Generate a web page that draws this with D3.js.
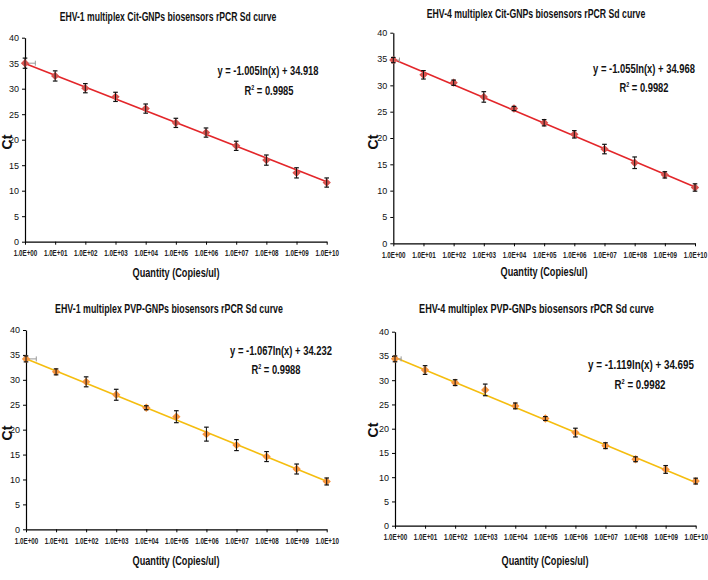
<!DOCTYPE html>
<html><head><meta charset="utf-8">
<script src="https://cdn.jsdelivr.net/npm/d3@7"></script>
<style>body{margin:0;background:#fff}svg{display:block}text{font-family:"Liberation Sans Narrow","Liberation Sans",Arial,sans-serif}</style>
</head><body>
<svg id="c" width="708" height="580"></svg>
<script>
const quantities = [1e0,1e1,1e2,1e3,1e4,1e5,1e6,1e7,1e8,1e9,1e10];
const tickLabels = ["1.0E+00","1.0E+01","1.0E+02","1.0E+03","1.0E+04","1.0E+05","1.0E+06","1.0E+07","1.0E+08","1.0E+09","1.0E+10"];
const yTicks = [0,5,10,15,20,25,30,35,40];

const titles = [
  "EHV-1 multiplex Cit-GNPs biosensors rPCR Sd curve",
  "EHV-4 multiplex Cit-GNPs biosensors rPCR Sd curve",
  "EHV-1 multiplex PVP-GNPs biosensors rPCR Sd curve",
  "EHV-4 multiplex PVP-GNPs biosensors rPCR Sd curve"
];
const ctCit1 = [35.0,32.5,30.1,28.4,26.1,23.3,21.4,18.8,16.0,13.5,11.6];
const errCit1 = [1.0,1.0,0.9,0.9,0.9,0.9,0.9,0.9,1.0,1.0,0.9];
const ctCit4 = [34.8,32.0,30.5,27.8,25.6,22.9,20.7,17.9,15.3,13.0,10.6];
const errCit4 = [0.5,0.8,0.5,1.0,0.4,0.6,0.7,0.9,1.1,0.6,0.7];
const ctPvp1 = [34.2,31.6,29.6,27.0,24.4,22.6,19.1,16.9,14.6,12.1,9.6];
const errPvp1 = [0.6,0.6,1.0,1.1,0.4,1.2,1.4,1.1,1.0,1.0,0.7];
const ctPvp4 = [34.4,32.1,29.5,28.0,24.7,22.1,19.2,16.5,13.7,11.6,9.2];
const errPvp4 = [0.6,0.9,0.6,1.2,0.6,0.4,0.9,0.6,0.5,0.8,0.6];
const xErrFirst = [2.2, 1.6, 2.2, 1.6]; // horizontal error bar end (quantity) at first point
const slopes = [-1.005,-1.055,-1.067,-1.119];
const intercepts = [34.918,34.968,34.232,34.695];
const equations = ["y = -1.005ln(x) + 34.918","y = -1.055ln(x) + 34.968","y = -1.067ln(x) + 34.232","y = -1.119ln(x) + 34.695"];
const r2Values = ["0.9985","0.9982","0.9988","0.9982"];

const series = [ctCit1, ctCit4, ctPvp1, ctPvp4];
const errors = [errCit1, errCit4, errPvp1, errPvp4];

// layout (pixel geometry only)
const layout = [
  {x0:25, x1:326.7, yT:37.7, yB:241.7, tx:168, ty:18, tw:217, ex:268, ey:72, ew:101, rx:269, ry:90, rw:49, ax:176, ay:273, cx:8, cy:142, line:"#e3262a", mk:"#d9534f"},
  {x0:393.3, x1:695, yT:32.7, yB:243.3, tx:536, ty:15, tw:219, ex:644, ey:70, ew:102, rx:644, ry:87, rw:49, ax:544, ay:272, cx:374, cy:142, line:"#e3262a", mk:"#d9534f"},
  {x0:26, x1:326.7, yT:330, yB:529.3, tx:169, ty:310, tw:228, ex:281, ey:352, ew:102, rx:276, ry:369, rw:49, ax:176, ay:561.7, cx:8, cy:433, line:"#f5bd0f", mk:"#f7943d"},
  {x0:395, x1:695.7, yT:331.7, yB:525.7, tx:536.5, ty:310, tw:235, ex:641, ey:366, ew:106, rx:640, ry:384, rw:51, ax:545, ay:561.7, cx:374, cy:430, line:"#f5bd0f", mk:"#f7943d"}
];

const svg = d3.select("#c");

// horizontally squeeze a text placed at (x,y) to a target width (Calibri-like narrow look)
function fit(sel, x, y, w) {
  sel.each(function() {
    const len = this.getComputedTextLength();
    const s = Math.min(1, w / len);
    d3.select(this).attr("x", 0).attr("y", 0).attr("transform", `translate(${x},${y}) scale(${s},1)`);
  });
}

layout.forEach((L, i) => {
  const g = svg.append("g");
  const x = d3.scaleLog().domain([1, 1e10]).range([L.x0, L.x1]);
  const y = d3.scaleLinear().domain([0, 40]).range([L.yB, L.yT]);

  // axes
  const xAxis = d3.axisBottom(x).tickValues(quantities).tickFormat((d,j)=>tickLabels[j]).tickSize(3).tickSizeOuter(0);
  const gx = g.append("g").attr("transform",`translate(0,${L.yB})`).call(xAxis);
  gx.select(".domain").attr("stroke","#000").attr("stroke-width",1.2);
  gx.selectAll(".tick line").attr("stroke","#000");
  gx.selectAll(".tick text").attr("font-size",9).attr("font-weight","bold").attr("fill","#222").attr("dy","0.95em");
  gx.selectAll(".tick text").each(function(){ fit(d3.select(this), 0, 6, 23.5); });

  const yAxis = d3.axisLeft(y).tickValues(yTicks).tickSize(3).tickSizeOuter(0);
  const gy = g.append("g").attr("transform",`translate(${L.x0},0)`).call(yAxis);
  gy.select(".domain").attr("stroke","#000").attr("stroke-width",1.2);
  gy.selectAll(".tick line").attr("stroke","#000");
  gy.selectAll(".tick text").attr("font-size",9).attr("fill","#111");

  // trend line from the chart's own equation
  const ends = [1, 1e10];
  g.append("path")
    .attr("d", d3.line().x(d=>x(d)).y(d=>y(slopes[i]*Math.log(d)+intercepts[i]))(ends))
    .attr("stroke", L.line).attr("stroke-width", 1.6).attr("fill","none");

  const data = quantities.map((q,j)=>({q, v:series[i][j], e:errors[i][j]}));

  // horizontal error bar at first point
  g.append("line").attr("x1",x(1)).attr("x2",x(xErrFirst[i])).attr("y1",y(data[0].v)).attr("y2",y(data[0].v))
    .attr("stroke","#999").attr("stroke-width",1);
  g.append("line").attr("x1",x(xErrFirst[i])).attr("x2",x(xErrFirst[i])).attr("y1",y(data[0].v)-2.5).attr("y2",y(data[0].v)+2.5)
    .attr("stroke","#999").attr("stroke-width",1);

  // markers
  g.selectAll(".mk").data(data).join("path").attr("class","mk")
    .attr("d", d3.symbol(d3.symbolDiamond2, 44))
    .attr("transform", d=>`translate(${x(d.q)},${y(d.v)})`)
    .attr("fill", L.mk);

  // vertical error bars
  const eb = g.selectAll(".eb").data(data).join("g").attr("class","eb");
  eb.append("line").attr("x1",d=>x(d.q)).attr("x2",d=>x(d.q)).attr("y1",d=>y(d.v+d.e)).attr("y2",d=>y(d.v-d.e))
    .attr("stroke","#111").attr("stroke-width",1);
  eb.append("line").attr("x1",d=>x(d.q)-2.3).attr("x2",d=>x(d.q)+2.3).attr("y1",d=>y(d.v+d.e)).attr("y2",d=>y(d.v+d.e))
    .attr("stroke","#111").attr("stroke-width",1.2);
  eb.append("line").attr("x1",d=>x(d.q)-2.3).attr("x2",d=>x(d.q)+2.3).attr("y1",d=>y(d.v-d.e)).attr("y2",d=>y(d.v-d.e))
    .attr("stroke","#111").attr("stroke-width",1.2);

  // texts
  const t = g.append("text").attr("text-anchor","middle").attr("dominant-baseline","middle")
    .attr("font-size",13).attr("font-weight","bold").attr("fill","#111").text(titles[i]);
  fit(t, L.tx, L.ty, L.tw);
  const e = g.append("text").attr("text-anchor","middle").attr("dominant-baseline","middle")
    .attr("font-size",13).attr("font-weight","bold").attr("fill","#111").text(equations[i]);
  fit(e, L.ex, L.ey, L.ew);
  const r = g.append("text").attr("text-anchor","middle")
    .attr("font-size",13).attr("font-weight","bold").attr("fill","#111");
  r.append("tspan").text("R");
  r.append("tspan").attr("font-size",7.5).attr("dy",-5).text("2");
  r.append("tspan").attr("dy",5).text(" = " + r2Values[i]);
  fit(r, L.rx, L.ry + 4.5, L.rw);
  const a = g.append("text").attr("text-anchor","middle").attr("dominant-baseline","middle")
    .attr("font-size",13.5).attr("font-weight","bold").attr("fill","#111").text("Quantity (Copies/ul)");
  fit(a, L.ax, L.ay, 87);
  g.append("text").attr("transform",`translate(${L.cx},${L.cy}) rotate(-90)`).attr("text-anchor","middle").attr("dominant-baseline","middle")
    .attr("font-size",14).attr("font-weight","bold").attr("fill","#111").text("Ct");
});
</script>
</body></html>
